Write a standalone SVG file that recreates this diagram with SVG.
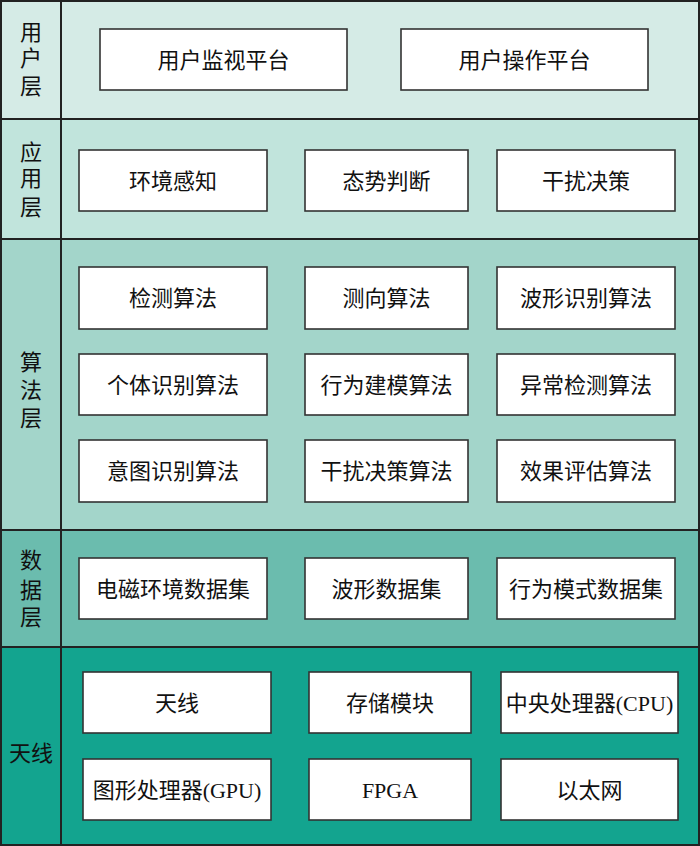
<svg xmlns="http://www.w3.org/2000/svg" width="700" height="846" viewBox="0 0 700 846">
<style>
.band{stroke:#222;stroke-width:2}
.box{fill:#fff;stroke:#333;stroke-width:1.6}
.t{font-family:"Liberation Serif","Noto Sans CJK SC",serif;font-size:22px;fill:#111;text-anchor:middle}
</style>
<g id="layers">
<rect class="band" x="1" y="1" width="698" height="118" fill="#d5ebe6"/>
<rect class="band" x="1" y="119" width="698" height="120" fill="#c1e4dc"/>
<rect class="band" x="1" y="239" width="698" height="291" fill="#a3d5ca"/>
<rect class="band" x="1" y="530" width="698" height="117" fill="#6bbcae"/>
<rect class="band" x="1" y="647" width="698" height="198" fill="#13a48f"/>
<line class="band" x1="61" y1="1" x2="61" y2="845"/>
</g>
<g id="label-user"><text class="t" x="31" y="40">用</text><text class="t" x="31" y="66">户</text><text class="t" x="31" y="94">层</text></g>
<g id="label-app"><text class="t" x="31" y="160">应</text><text class="t" x="31" y="186">用</text><text class="t" x="31" y="215">层</text></g>
<g id="label-algo"><text class="t" x="31" y="370">算</text><text class="t" x="31" y="398">法</text><text class="t" x="31" y="426">层</text></g>
<g id="label-data"><text class="t" x="31" y="568">数</text><text class="t" x="31" y="598">据</text><text class="t" x="31" y="625">层</text></g>
<g id="label-hw"><text class="t" x="31" y="761">天线</text></g>

<g id="n-monitor"><rect class="box" x="100" y="29" width="247" height="61"/><text class="t" x="223.5" y="67.5">用户监视平台</text></g>
<g id="n-operate"><rect class="box" x="401" y="29" width="247" height="61"/><text class="t" x="524.5" y="67.5">用户操作平台</text></g>

<g id="n-env"><rect class="box" x="79" y="150" width="188" height="61"/><text class="t" x="173" y="188.5">环境感知</text></g>
<g id="n-situ"><rect class="box" x="305" y="150" width="163" height="61"/><text class="t" x="386.5" y="188.5">态势判断</text></g>
<g id="n-jam"><rect class="box" x="497" y="150" width="178" height="61"/><text class="t" x="586" y="188.5">干扰决策</text></g>

<g id="n-detect"><rect class="box" x="79" y="267" width="188" height="62"/><text class="t" x="173" y="306">检测算法</text></g>
<g id="n-dir"><rect class="box" x="305" y="267" width="163" height="62"/><text class="t" x="386.5" y="306">测向算法</text></g>
<g id="n-wave"><rect class="box" x="497" y="267" width="178" height="62"/><text class="t" x="586" y="306">波形识别算法</text></g>
<g id="n-indiv"><rect class="box" x="79" y="354" width="188" height="61"/><text class="t" x="173" y="392.5">个体识别算法</text></g>
<g id="n-behav"><rect class="box" x="305" y="354" width="163" height="61"/><text class="t" x="386.5" y="392.5">行为建模算法</text></g>
<g id="n-anom"><rect class="box" x="497" y="354" width="178" height="61"/><text class="t" x="586" y="392.5">异常检测算法</text></g>
<g id="n-intent"><rect class="box" x="79" y="440" width="188" height="62"/><text class="t" x="173" y="479">意图识别算法</text></g>
<g id="n-jamalg"><rect class="box" x="305" y="440" width="163" height="62"/><text class="t" x="386.5" y="479">干扰决策算法</text></g>
<g id="n-eval"><rect class="box" x="497" y="440" width="178" height="62"/><text class="t" x="586" y="479">效果评估算法</text></g>

<g id="n-emds"><rect class="box" x="79" y="558" width="188" height="61"/><text class="t" x="173" y="596.5">电磁环境数据集</text></g>
<g id="n-waveds"><rect class="box" x="305" y="558" width="163" height="61"/><text class="t" x="386.5" y="596.5">波形数据集</text></g>
<g id="n-behds"><rect class="box" x="497" y="558" width="178" height="61"/><text class="t" x="586" y="596.5">行为模式数据集</text></g>

<g id="n-ant"><rect class="box" x="83" y="672" width="188" height="61"/><text class="t" x="177" y="710.5">天线</text></g>
<g id="n-store"><rect class="box" x="309" y="672" width="162" height="61"/><text class="t" x="390" y="710.5">存储模块</text></g>
<g id="n-cpu"><rect class="box" x="501" y="672" width="177" height="61"/><text class="t" x="589.5" y="710.5">中央处理器(CPU)</text></g>
<g id="n-gpu"><rect class="box" x="83" y="759" width="188" height="61"/><text class="t" x="177" y="797.5">图形处理器(GPU)</text></g>
<g id="n-fpga"><rect class="box" x="309" y="759" width="162" height="61"/><text class="t" x="390" y="797.5">FPGA</text></g>
<g id="n-eth"><rect class="box" x="501" y="759" width="177" height="61"/><text class="t" x="589.5" y="797.5">以太网</text></g>
<g id="connectors"/>
</svg>
